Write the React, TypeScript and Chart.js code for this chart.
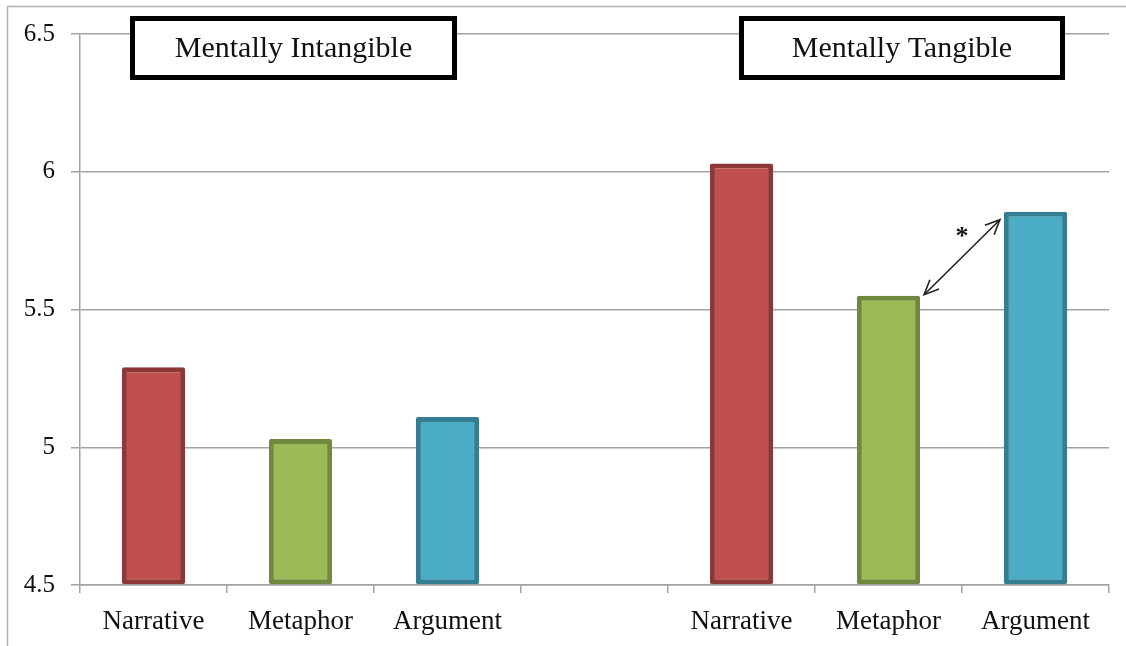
import React, { useEffect, useRef } from "react";
import { Chart, registerables } from "chart.js";

Chart.register(...registerables);

const categories = ["Narrative", "Metaphor", "Argument", "", "Narrative", "Metaphor", "Argument"];
const means: (number | null)[] = [5.29, 5.03, 5.11, null, 6.03, 5.55, 5.855];
const fillColors = ["#C0504D", "#9BBB59", "#4BACC6", "#FFFFFF", "#C0504D", "#9BBB59", "#4BACC6"];
const borderColors = ["#8C3836", "#71893F", "#357D91", "#FFFFFF", "#8C3836", "#71893F", "#357D91"];
const yMin = 4.5;
const yMax = 6.5;
const yStep = 0.5;
const groupTitles = ["Mentally Intangible", "Mentally Tangible"];
const significanceMark = "*";
const significancePair = [5, 6];

const SERIF = "'Liberation Serif', 'Times New Roman', serif";
const GRID = "#a3a3a3";

const annotations = {
  id: "annotations",
  afterDraw(chart: any) {
    const ctx = chart.ctx;
    const area = chart.chartArea;
    ctx.save();
    // outer frame (left + top)
    ctx.strokeStyle = "#b0b0b0";
    ctx.lineWidth = 1.5;
    ctx.beginPath();
    ctx.moveTo(7.5, chart.height);
    ctx.lineTo(7.5, 6.5);
    ctx.lineTo(chart.width, 6.5);
    ctx.stroke();

    // group title boxes
    const boxes = [
      { x: area.left + 50, w: 327, title: groupTitles[0] },
      { x: area.left + 659, w: 326, title: groupTitles[1] },
    ];
    boxes.forEach((b) => {
      ctx.fillStyle = "#ffffff";
      ctx.fillRect(b.x, 16, b.w, 64);
      ctx.strokeStyle = "#000000";
      ctx.lineWidth = 5;
      ctx.strokeRect(b.x + 2.5, 18.5, b.w - 5, 59);
      ctx.fillStyle = "#111111";
      ctx.font = `30px ${SERIF}`;
      ctx.textAlign = "center";
      ctx.textBaseline = "alphabetic";
      ctx.fillText(b.title, b.x + b.w / 2, 57);
    });

    // significance arrow between two bars
    const meta = chart.getDatasetMeta(0);
    const a = meta.data[significancePair[0]];
    const c = meta.data[significancePair[1]];
    if (a && c) {
      const x1 = a.x + a.width / 2 + 4;
      const y1 = a.y - 1;
      const x2 = c.x - c.width / 2 - 4;
      const y2 = c.y + 8;
      ctx.strokeStyle = "#222222";
      ctx.lineWidth = 1.6;
      ctx.beginPath();
      ctx.moveTo(x1, y1);
      ctx.lineTo(x2, y2);
      ctx.stroke();
      const head = (tx: number, ty: number, fx: number, fy: number) => {
        const ang = Math.atan2(ty - fy, tx - fx);
        const L = 16;
        const spread = 0.42;
        ctx.beginPath();
        ctx.moveTo(tx - L * Math.cos(ang - spread), ty - L * Math.sin(ang - spread));
        ctx.lineTo(tx, ty);
        ctx.lineTo(tx - L * Math.cos(ang + spread), ty - L * Math.sin(ang + spread));
        ctx.stroke();
      };
      head(x1, y1, x2, y2);
      head(x2, y2, x1, y1);
      ctx.fillStyle = "#111111";
      ctx.font = `bold 26px ${SERIF}`;
      ctx.textAlign = "center";
      ctx.textBaseline = "middle";
      ctx.fillText(significanceMark, (x1 + x2) / 2, (y1 + y2) / 2 - 20);
    }
    ctx.restore();
  },
};

export default function App() {
  const ref = useRef<HTMLCanvasElement>(null);
  useEffect(() => {
    if (!ref.current) return;
    const chart = new Chart(ref.current, {
      type: "bar",
      data: {
        labels: categories,
        datasets: [
          {
            data: means as any,
            backgroundColor: fillColors,
            borderColor: borderColors,
            borderWidth: 5,
            borderSkipped: false,
            borderRadius: 2,
            barPercentage: 0.43,
            categoryPercentage: 1,
            base: yMin,
          },
        ],
      },
      options: {
        animation: false,
        responsive: false,
        layout: { padding: { left: 0, right: 17, top: 34, bottom: 0 } },
        plugins: { legend: { display: false }, tooltip: { enabled: false } },
        scales: {
          x: {
            grid: {
              offset: true,
              drawOnChartArea: false,
              drawTicks: true,
              tickLength: 8,
              color: GRID,
              lineWidth: 1.5,
            },
            border: { display: true, color: GRID, width: 1.5 },
            ticks: {
              color: "#111111",
              font: { family: SERIF, size: 27 },
              padding: 13,
              maxRotation: 0,
              autoSkip: false,
            },
            afterFit(scale: any) {
              scale.height = 61;
            },
          },
          y: {
            min: yMin,
            max: yMax,
            grid: { color: GRID, lineWidth: 1.5, tickLength: 9, drawTicks: true },
            border: { display: true, color: GRID, width: 1.5 },
            ticks: {
              stepSize: yStep,
              color: "#111111",
              font: { family: SERIF, size: 25 },
              padding: 16,
              callback: (v: any) => String(v),
            },
            afterFit(scale: any) {
              scale.width = 80;
            },
          },
        },
      },
      plugins: [annotations],
    });
    return () => chart.destroy();
  }, []);
  return (
    <div style={{ position: "fixed", left: 0, top: 0, width: 1126, height: 646, background: "#fff" }}>
      <canvas ref={ref} width={1126} height={646} style={{ display: "block" }} />
    </div>
  );
}
